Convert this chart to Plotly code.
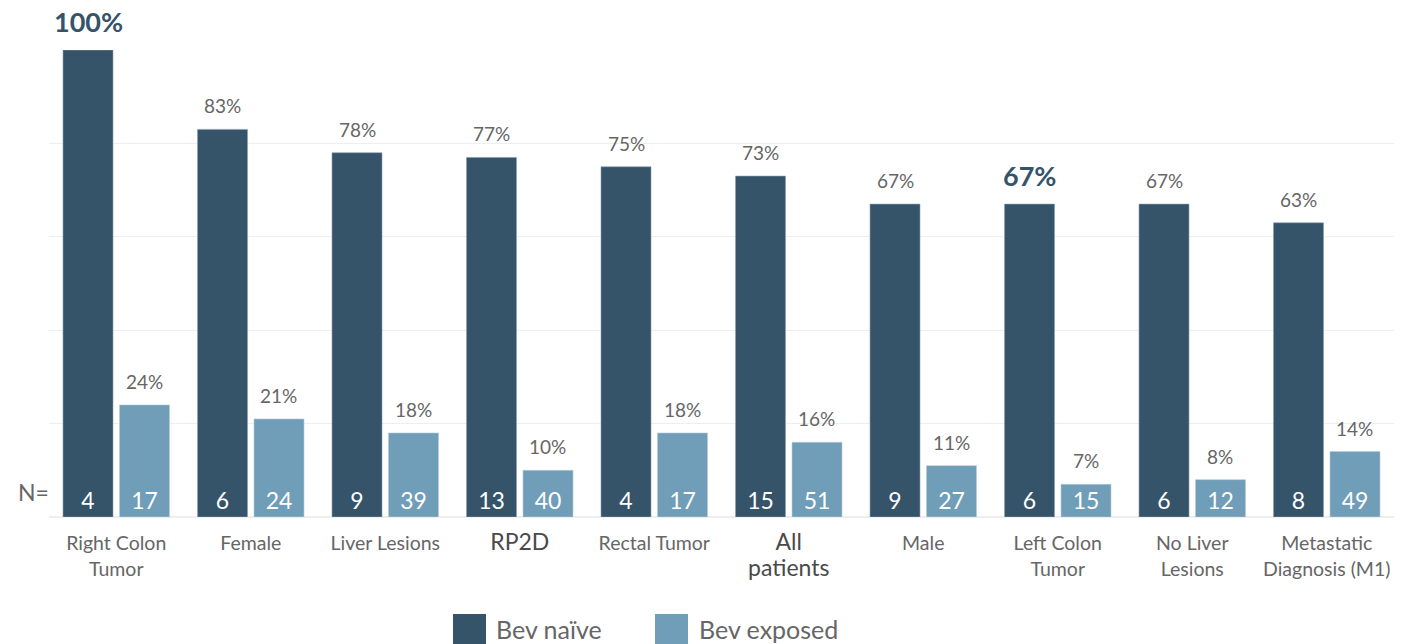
import plotly.graph_objects as go

categories = ["Right Colon Tumor", "Female", "Liver Lesions", "RP2D", "Rectal Tumor",
              "All patients", "Male", "Left Colon Tumor", "No Liver Lesions", "Metastatic Diagnosis (M1)"]
tick_labels = ["Right Colon<br>Tumor", "Female", "Liver Lesions",
               "<span style='font-size:23px;color:#4a4a4a'>RP2D</span>", "Rectal Tumor",
               "<span style='font-size:23px;color:#4a4a4a'>All</span><br><span style='font-size:23px;color:#4a4a4a'>patients</span>",
               "Male", "Left Colon<br>Tumor", "No Liver<br>Lesions", "Metastatic<br>Diagnosis (M1)"]
naive_pct = [100, 83, 78, 77, 75, 73, 67, 67, 67, 63]
exposed_pct = [24, 21, 18, 10, 18, 16, 11, 7, 8, 14]
naive_n = [4, 6, 9, 13, 4, 15, 9, 6, 6, 8]
exposed_n = [17, 24, 39, 40, 17, 51, 27, 15, 12, 49]
highlight = ["Right Colon Tumor", "Left Colon Tumor"]

DARK = "#355369"
LIGHT = "#709DB7"
GRAY = "#666666"
FONT = "Lato"

fig = go.Figure()
fig.add_trace(go.Bar(x=categories, y=naive_pct, name="Bev naïve", marker_color=DARK,
                     marker_line=dict(color="#8aa0b0", width=0.6),
                     text=[str(v) for v in naive_n], textposition="inside", insidetextanchor="start",
                     textangle=0, constraintext="none",
                     textfont=dict(color="white", size=23, family=FONT), showlegend=False))
fig.add_trace(go.Bar(x=categories, y=exposed_pct, name="Bev exposed", marker_color=LIGHT,
                     marker_line=dict(color="#b5cddb", width=0.6),
                     text=[str(v) for v in exposed_n], textposition="inside", insidetextanchor="start",
                     textangle=0, constraintext="none",
                     textfont=dict(color="white", size=23, family=FONT), showlegend=False))

ann = []
for c, v in zip(categories, naive_pct):
    if c in highlight:
        ann.append(dict(x=c, y=v, xref="x", yref="y", text=f"<b>{v}%</b>", showarrow=False,
                        xshift=-28, yshift=10, yanchor="bottom",
                        font=dict(size=27, color=DARK, family=FONT)))
    else:
        ann.append(dict(x=c, y=v, xref="x", yref="y", text=f"{v}%", showarrow=False,
                        xshift=-28, yshift=10, yanchor="bottom",
                        font=dict(size=19, color=GRAY, family=FONT)))
for c, v in zip(categories, exposed_pct):
    ann.append(dict(x=c, y=v, xref="x", yref="y", text=f"{v}%", showarrow=False,
                    xshift=28, yshift=10, yanchor="bottom",
                    font=dict(size=19, color=GRAY, family=FONT)))
ann.append(dict(x=0, y=0, xref="paper", yref="y", text="N=", showarrow=False,
                xanchor="right", xshift=2, yanchor="bottom", yshift=9,
                font=dict(size=23, color=GRAY, family=FONT)))

# legend drawn manually
def px_x(p):
    return (p - 49) / 1345
def px_y(p):
    return (517 - p) / 467

shapes = []
for x0, x1, col in [(453, 486, DARK), (655, 688, LIGHT)]:
    shapes.append(dict(type="rect", xref="paper", yref="paper", x0=px_x(x0), x1=px_x(x1),
                       y0=px_y(650), y1=px_y(614), fillcolor=col, line=dict(width=0)))
ann.append(dict(x=px_x(494), y=px_y(629), xref="paper", yref="paper", text="Bev naïve",
                showarrow=False, xanchor="left", yanchor="middle",
                font=dict(size=25, color=GRAY, family=FONT)))
ann.append(dict(x=px_x(697), y=px_y(629), xref="paper", yref="paper", text="Bev exposed",
                showarrow=False, xanchor="left", yanchor="middle",
                font=dict(size=25, color=GRAY, family=FONT)))

fig.update_layout(
    width=1412, height=644,
    margin=dict(l=49, r=18, t=50, b=127),
    paper_bgcolor="white", plot_bgcolor="white",
    barmode="group", bargap=0.16, bargroupgap=0.115,
    font=dict(family=FONT, color=GRAY),
    annotations=ann, shapes=shapes,
    xaxis=dict(tickmode="array", tickvals=categories, ticktext=tick_labels,
               tickfont=dict(size=19.5, color=GRAY, family=FONT), showgrid=False,
               showline=False, ticks="outside", ticklen=9, tickcolor="rgba(0,0,0,0)"),
    yaxis=dict(range=[0, 100], tickvals=[0, 20, 40, 60, 80, 100], showticklabels=False,
               gridcolor="#EEEEEE", gridwidth=1, zeroline=True, zerolinecolor="#EEEEEE",
               zerolinewidth=2),
)
fig.write_html("out.html", config={"displayModeBar": False},
               post_script="document.body.style.margin='0';document.body.style.overflow='hidden';")
